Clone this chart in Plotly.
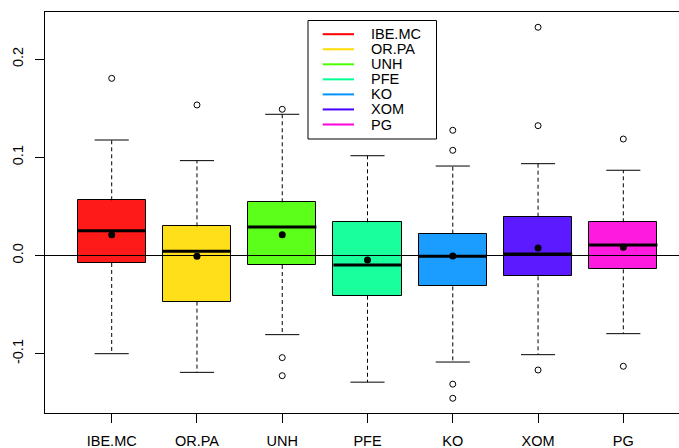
import plotly.graph_objects as go

names = ["IBE.MC", "OR.PA", "UNH", "PFE", "KO", "XOM", "PG"]
positions = [1, 2, 3, 4, 5, 6, 7]
q1 = [-0.0076, -0.0470, -0.0097, -0.0410, -0.0314, -0.0212, -0.0141]
median = [0.0253, 0.0043, 0.0290, -0.0097, -0.0008, 0.0015, 0.0107]
q3 = [0.0562, 0.0297, 0.0542, 0.0338, 0.0222, 0.0395, 0.0338]
whisker_low = [-0.1000, -0.1190, -0.0806, -0.1290, -0.1085, -0.1010, -0.0796]
whisker_high = [0.1176, 0.0966, 0.1438, 0.1016, 0.0911, 0.0935, 0.0868]
means = [0.0212, -0.0008, 0.0212, -0.0046, -0.0005, 0.0076, 0.0083]
outlier_group = ["IBE.MC", "OR.PA", "UNH", "UNH", "UNH", "KO", "KO", "KO", "KO",
                 "XOM", "XOM", "XOM", "PG", "PG"]
outlier_value = [0.1804, 0.1533, 0.1489, -0.1040, -0.1224, 0.1275, 0.1071, -0.1310,
                 -0.1454, 0.2324, 0.1322, -0.1166, 0.1186, -0.1128]
box_colors = ["#FF1A1A", "#FFDF1A", "#5BFF1A", "#1AFF9D", "#1A9DFF", "#5B1AFF", "#FF1ADF"]
legend_colors = ["#FF0000", "#FFDB00", "#49FF00", "#00FF92", "#0092FF", "#4900FF", "#FF00DB"]
y_ticks = [-0.1, 0.0, 0.1, 0.2]

BOX_W = 0.8
CAP_W = 0.4
FONT = "Liberation Sans, Arial, sans-serif"

fig = go.Figure()

# boxes
fig.add_trace(go.Bar(
    x=positions, base=q1, y=[b - a for a, b in zip(q1, q3)], width=BOX_W,
    marker=dict(color=box_colors, line=dict(color="#000000", width=1)),
    showlegend=False, hoverinfo="skip"))

# whiskers (dashed)
wx, wy = [], []
for p, a, lo, b, hi in zip(positions, q1, whisker_low, q3, whisker_high):
    wx += [p, p, None, p, p, None]
    wy += [a, lo, None, b, hi, None]
fig.add_trace(go.Scatter(x=wx, y=wy, mode="lines",
                         line=dict(color="#000000", width=1, dash="4px,3px"),
                         showlegend=False, hoverinfo="skip"))

# caps
cx, cy = [], []
for p, lo, hi in zip(positions, whisker_low, whisker_high):
    cx += [p - CAP_W / 2, p + CAP_W / 2, None, p - CAP_W / 2, p + CAP_W / 2, None]
    cy += [lo, lo, None, hi, hi, None]
fig.add_trace(go.Scatter(x=cx, y=cy, mode="lines",
                         line=dict(color="#000000", width=1),
                         showlegend=False, hoverinfo="skip"))

# medians
mx, my = [], []
for p, m in zip(positions, median):
    mx += [p - BOX_W / 2, p + BOX_W / 2, None]
    my += [m, m, None]
fig.add_trace(go.Scatter(x=mx, y=my, mode="lines",
                         line=dict(color="#000000", width=3),
                         showlegend=False, hoverinfo="skip"))

# outliers
pos_of = dict(zip(names, positions))
fig.add_trace(go.Scatter(
    x=[pos_of[g] for g in outlier_group], y=outlier_value, mode="markers",
    marker=dict(symbol="circle-open", size=6, color="#000000", line=dict(width=1)),
    showlegend=False, hoverinfo="skip"))

# means
fig.add_trace(go.Scatter(
    x=positions, y=means, mode="markers",
    marker=dict(symbol="circle", size=7, color="#000000"),
    showlegend=False, hoverinfo="skip"))

# horizontal zero line
fig.add_hline(y=0, line=dict(color="#000000", width=1), layer="above")

# figure geometry (pixels)
W, H = 679, 448
L, R, T, B = 45, 0, 12, 35
pw, ph = W - L - R, H - T - B


def px(xp):
    return (xp - L) / pw


def py(yp):
    return (H - B - yp) / ph


# manual legend (R style)
shapes = [dict(type="rect", xref="paper", yref="paper",
               x0=px(308), x1=px(436.5), y0=py(139), y1=py(20.5),
               line=dict(color="#000000", width=1), fillcolor="#FFFFFF", layer="above")]
annotations = []
for i, (n, c) in enumerate(zip(names, legend_colors)):
    yy = 34.2 + i * 15.05
    shapes.append(dict(type="line", xref="paper", yref="paper",
                       x0=px(322.7), x1=px(354), y0=py(yy), y1=py(yy),
                       line=dict(color=c, width=2), layer="above"))
    annotations.append(dict(xref="paper", yref="paper", x=px(369), y=py(yy),
                            text=n, showarrow=False, xanchor="left", yanchor="middle",
                            font=dict(family=FONT, size=14.5, color="#000000")))
for s in shapes:
    fig.add_shape(**s)

fig.update_layout(
    width=W, height=H,
    margin=dict(l=L, r=R, t=T, b=B, pad=0),
    paper_bgcolor="#FFFFFF", plot_bgcolor="#FFFFFF",
    font=dict(family=FONT, size=14.5, color="#000000"),
    annotations=annotations,
    showlegend=False,
    bargap=0,
)
fig.update_xaxes(
    range=[0.2178, 7.653], tickvals=positions, ticktext=names,
    showgrid=False, zeroline=False,
    showline=True, mirror=True, linecolor="#000000", linewidth=1,
    ticks="outside", ticklen=9, tickcolor="#000000", tickwidth=1,
    tickfont=dict(family=FONT, size=14.5, color="#000000"),
    ticklabelstandoff=6,
)
fig.update_yaxes(
    range=[-0.16039, 0.24796], tickvals=y_ticks, ticktext=[f"{v:.1f}" for v in y_ticks],
    showgrid=False, zeroline=False,
    showline=True, mirror=False, linecolor="#000000", linewidth=1,
    ticks="outside", ticklen=9, tickcolor="#000000", tickwidth=1,
    tickangle=-90,
    tickfont=dict(family=FONT, size=14.5, color="#000000"),
    ticklabelstandoff=6,
)

fig.write_html("out.html")
